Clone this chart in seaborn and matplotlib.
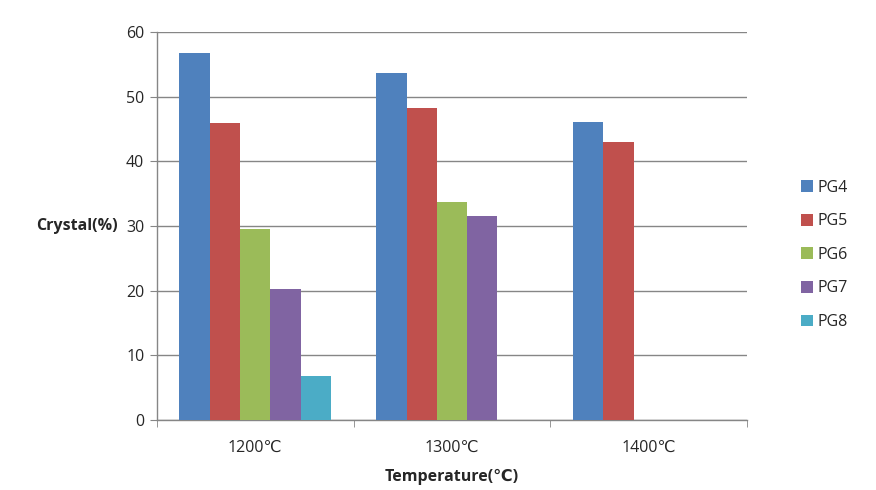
import pandas as pd
import matplotlib.pyplot as plt
import seaborn as sns

temperatures = ["1200℃", "1300℃", "1400℃"]
samples = ["PG4", "PG5", "PG6", "PG7", "PG8"]
pg4 = [56.8, 53.7, 46.1]
pg5 = [45.9, 48.2, 42.9]
pg6 = [29.5, 33.7, None]
pg7 = [20.3, 31.6, None]
pg8 = [6.8, None, None]
colors = ["#4F81BD", "#C0504D", "#9BBB59", "#8064A2", "#4BACC6"]

rows = []
for name, vals in zip(samples, [pg4, pg5, pg6, pg7, pg8]):
    for t, v in zip(temperatures, vals):
        rows.append({"Temperature": t, "Sample": name, "Crystal": v})
df = pd.DataFrame(rows)

sns.set_style("white")
plt.rcParams["font.family"] = ["Open Sans", "DejaVu Sans"]

fig = plt.figure(figsize=(8.76, 4.9), dpi=100)
ax = fig.add_axes([0.179, 0.143, 0.674, 0.792])

sns.barplot(data=df, x="Temperature", y="Crystal", hue="Sample",
            order=temperatures, hue_order=samples, palette=colors,
            width=0.77, saturation=1, linewidth=0, ax=ax, zorder=3)

ax.set_ylim(0, 60)
ax.set_yticks(range(0, 61, 10))
ax.set_xlim(-0.5, 2.5)
ax.yaxis.grid(True, color="#868686", linewidth=1.0, zorder=0)
ax.set_axisbelow(True)

for s in ["top", "right"]:
    ax.spines[s].set_visible(False)
for s in ["left", "bottom"]:
    ax.spines[s].set_color("#868686")
    ax.spines[s].set_linewidth(1.0)

fs = 11.5
ax.tick_params(axis="y", which="major", length=5, color="#868686",
               direction="out", labelsize=fs, pad=4, left=True)
ax.tick_params(axis="x", which="major", length=0, labelsize=fs, pad=14)
ax.set_xticks([-0.5, 0.5, 1.5, 2.5], minor=True)
ax.tick_params(axis="x", which="minor", length=5, color="#868686",
               direction="out", bottom=True)

ax.set_ylabel("Crystal(%)", rotation=0, fontsize=fs, fontweight="bold",
              ha="right", va="center")
ax.yaxis.set_label_coords(-0.066, 0.5)
ax.set_xlabel("Temperature(℃)", fontsize=fs, fontweight="bold")
ax.xaxis.set_label_coords(0.5, -0.125)

handles, labels = ax.get_legend_handles_labels()
ax.legend(handles, labels, loc="center left", bbox_to_anchor=(0.898, 0.48),
          bbox_transform=fig.transFigure, frameon=False, fontsize=fs,
          handlelength=0.75, handleheight=0.75, handletextpad=0.3,
          labelspacing=1.1)

fig.savefig("out.png", dpi=100)
